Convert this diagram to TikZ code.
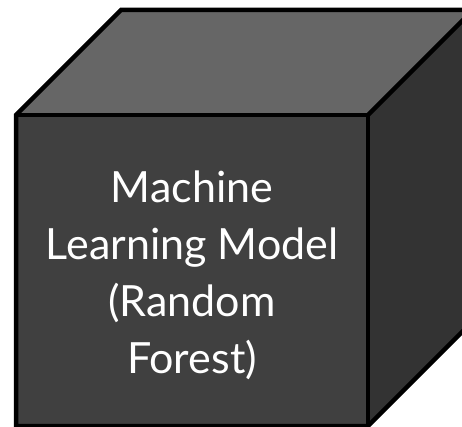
\documentclass[tikz,border=0pt]{standalone}
\usepackage{fontspec}
\setmainfont{Lato}
\definecolor{frontface}{RGB}{64,64,64}
\definecolor{topface}{RGB}{102,102,102}
\definecolor{sideface}{RGB}{51,51,51}
\usetikzlibrary{positioning,calc}

\tikzset{
  face/.style={draw=black,line width=4.5pt,line join=miter},
  label/.style={text=white,align=center,font=\fontsize{43}{57}\selectfont}
}

\begin{document}
\begin{tikzpicture}[x=1pt,y=-1pt]
        \useasboundingbox (0,0) rectangle (462,427);
        \clip (0,0) rectangle (462,427);
        % front corners, depth goes up and right
        \coordinate (fl) at (16,115);
        \coordinate (fr) at (368,115);
        \coordinate (br) at (368,426);
        \coordinate (bl) at (16,426);
        \coordinate (d) at (105,-105);
        \fill[topface] (fl) -- ($(fl)+(d)$) -- ($(fr)+(d)$) -- (fr) -- cycle;
        \fill[sideface] (fr) -- ($(fr)+(d)$) -- ($(br)+(d)$) -- (br) -- cycle;
        \fill[frontface] (fl) rectangle (br);
        \draw[face] (fl) -- ($(fl)+(d)$) -- ($(fr)+(d)$) -- ($(br)+(d)$) -- (br) -- (bl) -- cycle;
        \draw[face] (fl) -- (fr) -- (br);
        \draw[face] (fr) -- ($(fr)+(d)$);
        \node[label] (model) at ($(fl)!0.5!(br)+(0,5)$) {Machine\\Learning Model\\(Random\\Forest)};
      \end{tikzpicture}
\end{document}
